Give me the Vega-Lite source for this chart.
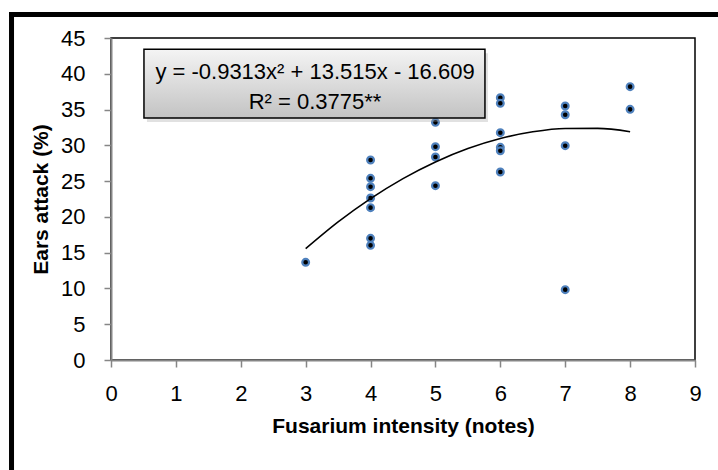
{
  "$schema": "https://vega.github.io/schema/vega-lite/v6.json",
  "width": 584,
  "height": 322,
  "autosize": {"type": "none"},
  "padding": {"left": 111, "top": 38, "right": 23, "bottom": 110},
  "background": "white",
  "config": {
    "view": {"stroke": "black", "strokeWidth": 1.5},
    "font": "Liberation Sans",
    "axis": {
      "grid": false,
      "domainColor": "#868686",
      "domainWidth": 2,
      "tickColor": "#868686",
      "tickWidth": 1.5,
      "tickSize": 7,
      "labelFont": "Liberation Sans",
      "labelFontSize": 22,
      "labelColor": "#000000",
      "labelOverlap": false,
      "labelFlush": false,
      "labelBound": false,
      "titleFont": "Liberation Sans",
      "titleFontSize": 21,
      "titleFontWeight": "bold",
      "titleColor": "#000000"
    },
    "axisX": {"labelPadding": 16, "titlePadding": 11},
    "axisY": {"labelPadding": 19, "titlePadding": 9}
  },
  "datasets": {
    "points": [
      {"notes": 3, "attack": 13.65},
      {"notes": 4, "attack": 27.95},
      {"notes": 4, "attack": 25.39},
      {"notes": 4, "attack": 24.22},
      {"notes": 4, "attack": 22.64},
      {"notes": 4, "attack": 21.29},
      {"notes": 4, "attack": 17.0},
      {"notes": 4, "attack": 16.02},
      {"notes": 5, "attack": 33.21},
      {"notes": 5, "attack": 29.81},
      {"notes": 5, "attack": 28.37},
      {"notes": 5, "attack": 24.36},
      {"notes": 6, "attack": 36.66},
      {"notes": 6, "attack": 35.87},
      {"notes": 6, "attack": 31.77},
      {"notes": 6, "attack": 29.72},
      {"notes": 6, "attack": 29.25},
      {"notes": 6, "attack": 26.27},
      {"notes": 7, "attack": 35.49},
      {"notes": 7, "attack": 34.28},
      {"notes": 7, "attack": 29.95},
      {"notes": 7, "attack": 9.83},
      {"notes": 8, "attack": 38.2},
      {"notes": 8, "attack": 35.03}
    ],
    "trend": [
      {"notes": 3, "attack": 15.55},
      {"notes": 3.5, "attack": 19.29},
      {"notes": 4, "attack": 22.55},
      {"notes": 4.5, "attack": 25.35},
      {"notes": 5, "attack": 27.68},
      {"notes": 5.5, "attack": 29.55},
      {"notes": 6, "attack": 30.95},
      {"notes": 6.5, "attack": 31.89},
      {"notes": 7, "attack": 32.36},
      {"notes": 7.5, "attack": 32.37},
      {"notes": 8, "attack": 31.91}
    ]
  },
  "layer": [
    {
      "data": {"name": "points"},
      "mark": {"type": "point", "shape": "circle", "filled": true, "fill": "#000000", "stroke": "#4f81bd", "strokeWidth": 2.2, "size": 46, "opacity": 1},
      "encoding": {
        "x": {
          "field": "notes", "type": "quantitative",
          "scale": {"domain": [0, 9], "nice": false, "zero": false},
          "axis": {"values": [0, 1, 2, 3, 4, 5, 6, 7, 8, 9], "format": "d", "title": "Fusarium intensity (notes)"}
        },
        "y": {
          "field": "attack", "type": "quantitative",
          "scale": {"domain": [0, 45], "nice": false, "zero": false},
          "axis": {"values": [0, 5, 10, 15, 20, 25, 30, 35, 40, 45], "format": "d", "title": "Ears attack (%)"}
        }
      }
    },
    {
      "data": {"name": "trend"},
      "mark": {"type": "line", "color": "#000000", "strokeWidth": 1.6, "interpolate": "monotone"},
      "encoding": {
        "x": {"field": "notes", "type": "quantitative", "axis": {"values": [0, 1, 2, 3, 4, 5, 6, 7, 8, 9], "format": "d", "title": "Fusarium intensity (notes)"}},
        "y": {"field": "attack", "type": "quantitative", "axis": {"values": [0, 5, 10, 15, 20, 25, 30, 35, 40, 45], "format": "d", "title": "Ears attack (%)"}}
      }
    },
    {
      "data": {"values": [{}]},
      "mark": {"type": "rect", "fill": "#9a9a9a", "opacity": 0.3, "xOffset": 3, "yOffset": 4, "x2Offset": 3, "y2Offset": 4},
      "encoding": {
        "x": {"datum": 0.508, "type": "quantitative", "axis": {"values": [0, 1, 2, 3, 4, 5, 6, 7, 8, 9], "format": "d", "title": "Fusarium intensity (notes)"}},
        "x2": {"datum": 5.763},
        "y": {"datum": 43.42, "type": "quantitative", "axis": {"values": [0, 5, 10, 15, 20, 25, 30, 35, 40, 45], "format": "d", "title": "Ears attack (%)"}},
        "y2": {"datum": 33.82}
      }
    },
    {
      "data": {"values": [{}]},
      "mark": {
        "type": "rect",
        "stroke": "#000000",
        "strokeWidth": 1.5,
        "fill": {"gradient": "linear", "x1": 0, "y1": 0, "x2": 0, "y2": 1, "stops": [{"offset": 0, "color": "#f4f4f4"}, {"offset": 1, "color": "#c3c3c3"}]}
      },
      "encoding": {
        "x": {"datum": 0.508, "type": "quantitative", "axis": {"values": [0, 1, 2, 3, 4, 5, 6, 7, 8, 9], "format": "d", "title": "Fusarium intensity (notes)"}},
        "x2": {"datum": 5.763},
        "y": {"datum": 43.42, "type": "quantitative", "axis": {"values": [0, 5, 10, 15, 20, 25, 30, 35, 40, 45], "format": "d", "title": "Ears attack (%)"}},
        "y2": {"datum": 33.82}
      }
    },
    {
      "data": {"values": [{"label": "y = -0.9313x² + 13.515x - 16.609"}]},
      "mark": {"type": "text", "font": "Liberation Sans", "fontSize": 22, "color": "#000000", "align": "center", "baseline": "middle"},
      "encoding": {
        "x": {"datum": 3.144, "type": "quantitative", "axis": {"values": [0, 1, 2, 3, 4, 5, 6, 7, 8, 9], "format": "d", "title": "Fusarium intensity (notes)"}},
        "y": {"datum": 40.25, "type": "quantitative", "axis": {"values": [0, 5, 10, 15, 20, 25, 30, 35, 40, 45], "format": "d", "title": "Ears attack (%)"}},
        "text": {"field": "label"}
      }
    },
    {
      "data": {"values": [{"label": "R² = 0.3775**"}]},
      "mark": {"type": "text", "font": "Liberation Sans", "fontSize": 22, "color": "#000000", "align": "center", "baseline": "middle"},
      "encoding": {
        "x": {"datum": 3.144, "type": "quantitative", "axis": {"values": [0, 1, 2, 3, 4, 5, 6, 7, 8, 9], "format": "d", "title": "Fusarium intensity (notes)"}},
        "y": {"datum": 36.05, "type": "quantitative", "axis": {"values": [0, 5, 10, 15, 20, 25, 30, 35, 40, 45], "format": "d", "title": "Ears attack (%)"}},
        "text": {"field": "label"}
      }
    },
    {
      "data": {"values": [{}]},
      "mark": {"type": "rule", "color": "#000000", "strokeWidth": 5, "strokeCap": "square"},
      "encoding": {
        "x": {"datum": -1.533, "type": "quantitative", "axis": {"values": [0, 1, 2, 3, 4, 5, 6, 7, 8, 9], "format": "d", "title": "Fusarium intensity (notes)"}},
        "y": {"datum": 48.28, "type": "quantitative", "axis": {"values": [0, 5, 10, 15, 20, 25, 30, 35, 40, 45], "format": "d", "title": "Ears attack (%)"}},
        "y2": {"datum": -16}
      }
    },
    {
      "data": {"values": [{}]},
      "mark": {"type": "rule", "color": "#000000", "strokeWidth": 5, "strokeCap": "square"},
      "encoding": {
        "x": {"datum": -1.533, "type": "quantitative", "axis": {"values": [0, 1, 2, 3, 4, 5, 6, 7, 8, 9], "format": "d", "title": "Fusarium intensity (notes)"}},
        "x2": {"datum": 9.6},
        "y": {"datum": 48.28, "type": "quantitative", "axis": {"values": [0, 5, 10, 15, 20, 25, 30, 35, 40, 45], "format": "d", "title": "Ears attack (%)"}}
      }
    }
  ]
}
